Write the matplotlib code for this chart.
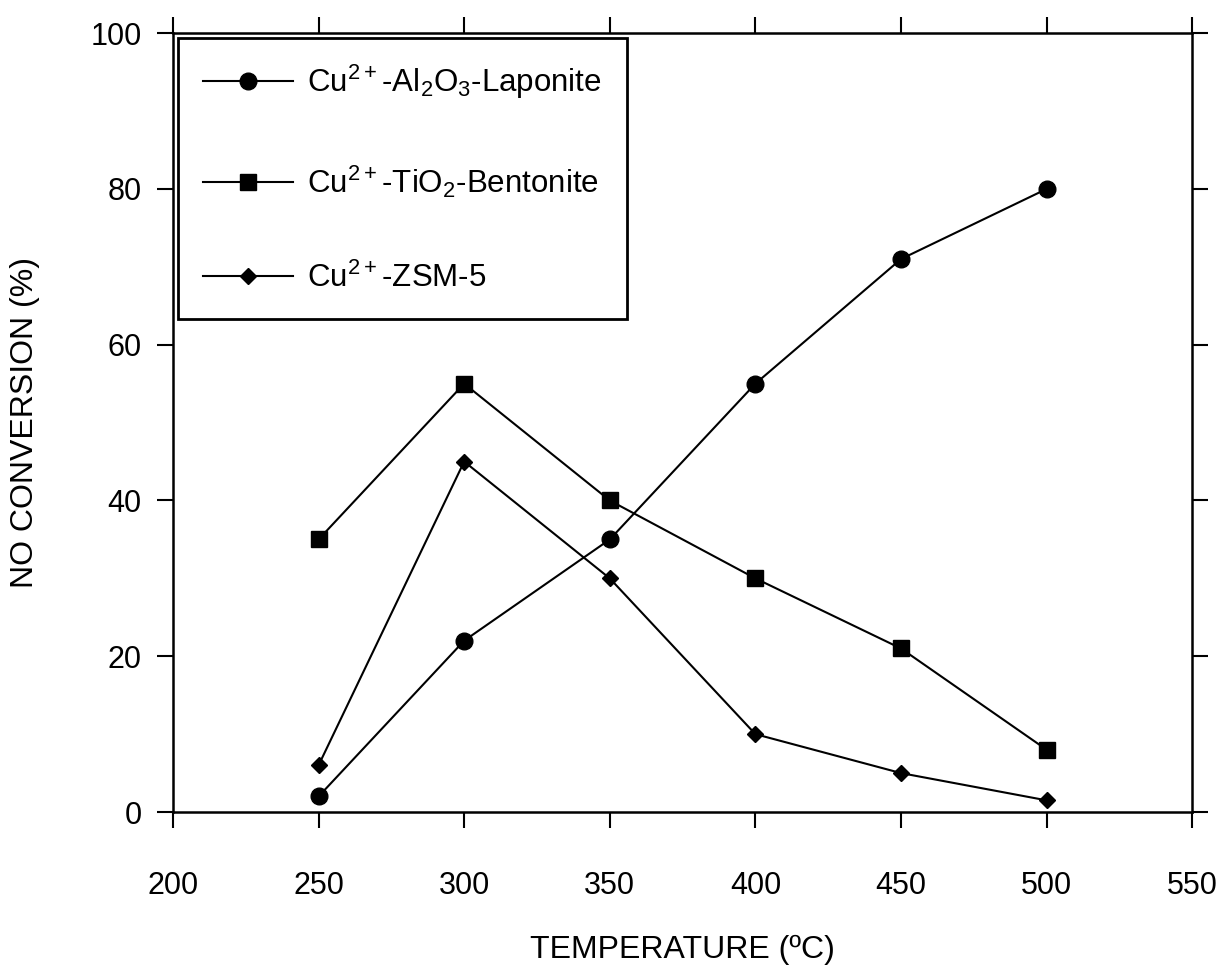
import matplotlib
matplotlib.use('Agg')
import numpy as np
import matplotlib.pyplot as plt

plt.rcParams['font.family'] = ['Liberation Sans', 'DejaVu Sans']
plt.rcParams['mathtext.default'] = 'regular'

temperature = [250, 300, 350, 400, 450, 500]
laponite = [2, 22, 35, 55, 71, 80]
bentonite = [35, 55, 40, 30, 21, 8]
zsm5 = [6, 45, 30, 10, 5, 1.5]

labels = [r'Cu$^{2+}$-Al$_2$O$_3$-Laponite',
          r'Cu$^{2+}$-TiO$_2$-Bentonite',
          r'Cu$^{2+}$-ZSM-5']

xticks = [200, 250, 300, 350, 400, 450, 500, 550]
yticks = [0, 20, 40, 60, 80, 100]

fig = plt.figure(figsize=(12.31, 9.76), dpi=100)
ax = fig.add_axes([0.1405, 0.168, 0.828, 0.798])

ax.plot(temperature, laponite, '-o', color='black', lw=1.5, ms=12, label=labels[0])
ax.plot(temperature, bentonite, '-s', color='black', lw=1.5, ms=11.5, label=labels[1])
ax.plot(temperature, zsm5, '-D', color='black', lw=1.5, ms=8.5, label=labels[2])

ax.set_xlim(200, 550)
ax.set_ylim(0, 100)
ax.set_xticks(xticks)
ax.set_yticks(yticks)
ax.tick_params(direction='out', length=11.5, width=1.5, labelsize=22,
               top=True, right=True, pad=11)
ax.tick_params(axis='x', pad=31)
for s in ax.spines.values():
    s.set_linewidth(1.8)

ax.set_xlabel('TEMPERATURE (ºC)', fontsize=23, labelpad=24)
ax.set_ylabel('NO CONVERSION (%)', fontsize=23, labelpad=36)

leg = ax.legend(loc='upper left', bbox_to_anchor=(0.0, 1.0), fontsize=22.5,
                fancybox=False, edgecolor='black', framealpha=1,
                handlelength=2.9, labelspacing=2.0, borderpad=0.8,
                handletextpad=0.45, borderaxespad=0.15)
leg.get_frame().set_linewidth(2.0)

plt.savefig('out.png', dpi=100)
